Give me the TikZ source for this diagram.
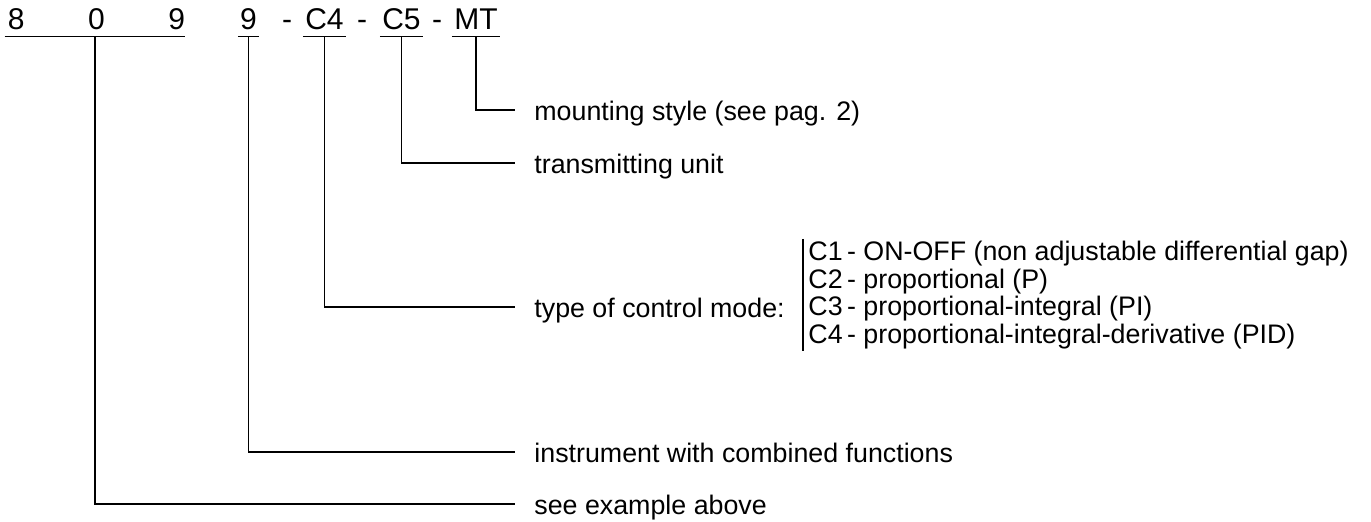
\documentclass[tikz,border=0pt]{standalone}
\usepackage{fontspec}
\setmainfont{Liberation Sans}
\begin{document}
\begin{tikzpicture}
    [ x=0.5pt, y=-0.5pt
    , every node/.style={font=\fontsize{13.4}{13.75}\selectfont}
    , code/.style={anchor=base, inner xsep=1pt, inner ysep=3.5pt, text depth=0pt, font=\fontsize{15}{16}\selectfont}
    , desc/.style={anchor=west, inner xsep=9.5pt, inner ysep=0pt, text height=10pt, text depth=0pt}
    , lead/.style={line width=0.7pt}
    ]

    \useasboundingbox (0,0) rectangle (1371,521);

    % the order code
    \node [code, inner xsep=0pt] (serial) at (95,29)  {\makebox[90pt]{\hspace{1.5pt}8\hfill 0\hfill 9}};
    \node [code] (c9)   at (248.5,29) {9};
    \node [code] (sep1) at (287,29)   {-};
    \node [code] (c4)   at (324.5,29) {C4};
    \node [code] (sep2) at (362,29)   {-};
    \node [code] (c5)   at (401.5,29) {C5};
    \node [code] (sep3) at (437,29)   {-};
    \node [code] (mt)   at (476,29)   {MT};

    \foreach \n in {serial, c9, c4, c5, mt}
      \draw [lead] (\n.south west) -- (\n.south east);

    % what each part means
    \node [desc] (mount) at (515,110) {mounting style (see pag. 2)};
    \node [desc] (trans) at (515,163) {transmitting unit};
    \node [desc] (mode)  at (515,307) {type of control mode:};
    \node [desc] (instr) at (515,452) {instrument with combined functions};
    \node [desc] (see)   at (515,504) {see example above};

    \node [anchor=west, align=left, inner xsep=2.5pt, inner ysep=1pt] (modes) at (803,295)
      {C1\,- ON-OFF (non adjustable differential gap)\\
       C2\,- proportional (P)\\
       C3\,- proportional-integral (PI)\\
       C4\,- proportional-integral-derivative (PID)};
    \draw [lead] (modes.north west) -- (modes.south west);

    \draw [lead] (mt.south)     |- (mount.west);
    \draw [lead] (c5.south)     |- (trans.west);
    \draw [lead] (c4.south)     |- (mode.west);
    \draw [lead] (c9.south)     |- (instr.west);
    \draw [lead] (serial.south) |- (see.west);
\end{tikzpicture}
\end{document}
